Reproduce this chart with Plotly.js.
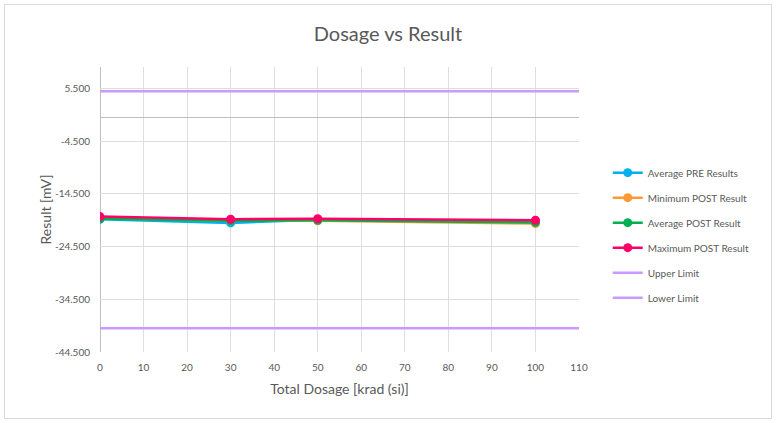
<!DOCTYPE html>
<html>
<head>
<meta charset="utf-8">
<script src="https://cdn.plot.ly/plotly-3.0.1.min.js"></script>
<style>
html,body{margin:0;padding:0;background:#fff;}
#frame{position:absolute;left:4px;top:4px;width:766px;height:413px;border:1px solid #d9d9d9;}
#chart{position:absolute;left:0;top:0;width:776px;height:423px;}
</style>
</head>
<body>
<div id="frame"></div>
<div id="chart"></div>
<script>
const dosage = [0, 30, 50, 100];
const avgPre = [-19.3, -20.0, -19.4, -19.7];
const minPost = [-19.1, -19.6, -19.6, -20.1];
const avgPost = [-19.2, -19.6, -19.5, -19.9];
const maxPost = [-18.8, -19.3, -19.2, -19.5];
const limitX = [0, 110];
const upperLimit = [5.0, 5.0];
const lowerLimit = [-40.0, -40.0];
const xTicks = [0, 10, 20, 30, 40, 50, 60, 70, 80, 90, 100, 110];
const yTickVals = [-44.5, -34.5, -24.5, -14.5, -4.5, 5.5];
const yTickLabels = ["-44.500", "-34.500", "-24.500", "-14.500", "-4.500", "5.500"];

const txt = '#595959';
const font = 'Lato, "Open Sans", sans-serif';

function series(name, y, color, rank) {
  return {x: dosage, y: y, name: name, type: 'scatter', mode: 'lines+markers',
    line: {color: color, width: 2.5}, marker: {color: color, size: 9},
    legendgroup: name, legendrank: rank};
}
function limit(name, y, rank) {
  return {x: limitX, y: y, name: name, type: 'scatter', mode: 'lines',
    line: {color: '#cc99ff', width: 2.5}, legendgroup: name, legendrank: rank, cliponaxis: false};
}

const data = [
  limit('Upper Limit', upperLimit, 5),
  limit('Lower Limit', lowerLimit, 6),
  series('Average PRE Results', avgPre, '#00b0f0', 1),
  series('Minimum POST Result', minPost, '#ff9933', 2),
  series('Average POST Result', avgPost, '#00b050', 3),
  series('Maximum POST Result', maxPost, '#ff0066', 4)
];

const layout = {
  width: 776, height: 423,
  margin: {l: 100, r: 197, t: 67, b: 71},
  paper_bgcolor: 'rgba(0,0,0,0)', plot_bgcolor: 'rgba(0,0,0,0)',
  font: {family: font, color: txt, size: 10},
  title: {text: 'Dosage vs Result', font: {family: font, size: 20, color: txt}, x: 0.5, xanchor: 'center', y: 0.92, yanchor: 'middle'},
  xaxis: {
    range: [0, 110], tickvals: xTicks, ticktext: xTicks.map(String),
    showgrid: true, gridcolor: '#dedede', gridwidth: 1,
    zeroline: false, showline: false, ticks: '',
    tickfont: {size: 10, color: txt}, ticklabelstandoff: 8,
    title: {text: 'Total Dosage [krad (si)]', font: {size: 14, color: txt}, standoff: 12}
  },
  yaxis: {
    range: [-44.5, 9.6], tickvals: yTickVals, ticktext: yTickLabels,
    showgrid: true, gridcolor: '#dedede', gridwidth: 1,
    zeroline: true, zerolinecolor: '#bfbfbf', zerolinewidth: 1.5,
    showline: false, ticks: '',
    tickfont: {size: 10, color: txt}, ticklabelstandoff: 9,
    title: {text: 'Result [mV]', font: {size: 14, color: txt}, standoff: 0}
  },
  shapes: [
    {type: 'line', xref: 'x', yref: 'paper', x0: 0, x1: 0, y0: 0, y1: 1, line: {color: '#bfbfbf', width: 2}, layer: 'below'}
  ],
  showlegend: true,
  legend: {x: 1.06, xanchor: 'left', y: 0.41, yanchor: 'middle', font: {size: 10, color: txt},
    tracegroupgap: 6, bgcolor: 'rgba(0,0,0,0)', itemwidth: 30}
};

Plotly.newPlot('chart', data, layout, {displayModeBar: false, staticPlot: true});
</script>
</body>
</html>
